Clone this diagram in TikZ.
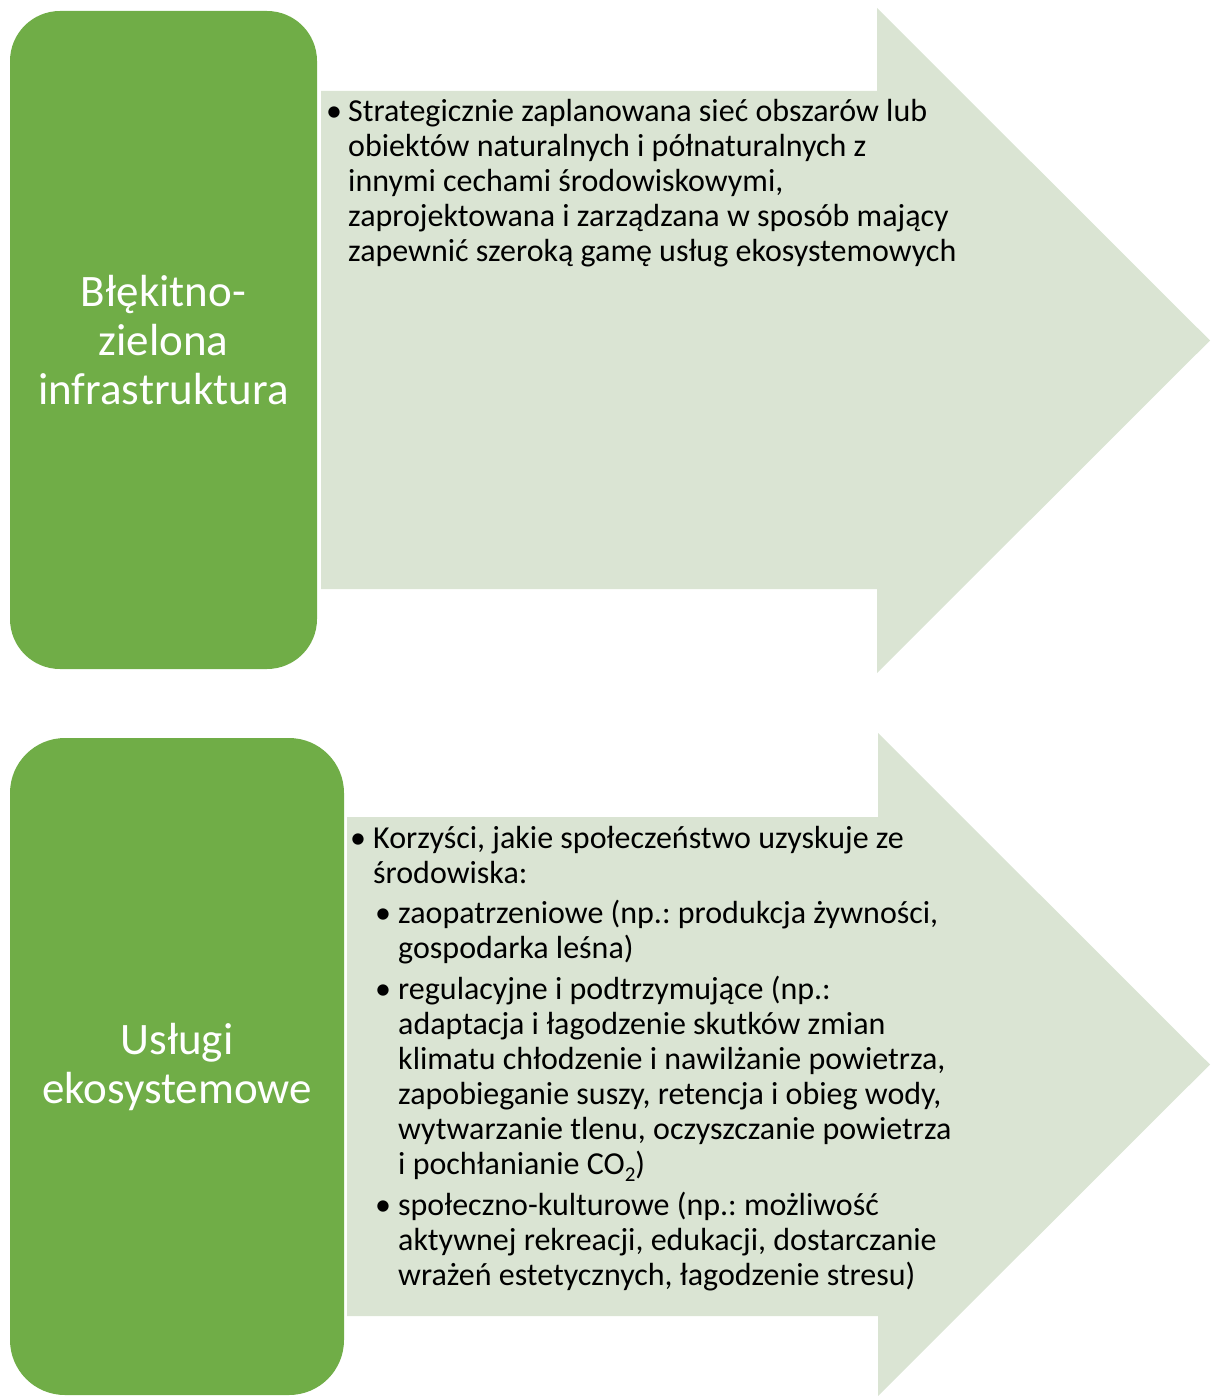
\documentclass[tikz,border=0pt]{standalone}
\usepackage{fontspec}
\setmainfont{Carlito}
\frenchspacing
\definecolor{gbox}{HTML}{70AD47}
\definecolor{garrow}{HTML}{DAE4D3}
\newcommand{\bul}[1]{\makebox[#1][l]{•}}
\newcommand{\toprule}{\rule{0pt}{32pt}}
\newcommand{\lowsub}[1]{\raisebox{-7pt}{\fontsize{21}{21}\selectfont #1}}
\begin{document}
\begin{tikzpicture}[x=1pt,y=-1pt,
  greenbox/.style={rectangle, fill=gbox, text=white, align=center, inner sep=0pt,
    font=\fontsize{45}{49}\selectfont},
  arrowfill/.style={fill=garrow},
  bodytext/.style={anchor=north west, align=left, inner sep=0pt, text=black,
    font=\fontsize{32}{35}\selectfont}]
\useasboundingbox (0,0) rectangle (1214,1396);
% arrows
\fill[arrowfill] (321,91) -- (877,91) -- (877,8) -- (1210,340.5) -- (877,673) -- (877,589) -- (321,589) -- cycle;
\fill[arrowfill] (347,817) -- (878,817) -- (878,733) -- (1210,1064.5) -- (878,1396) -- (878,1316) -- (347,1316) -- cycle;
% green boxes
\node[greenbox, minimum width=307pt, minimum height=658pt, rounded corners=50pt] (b1) at (163.5,340)
  {Błękitno-\\zielona\\infrastruktura};
\node[greenbox, minimum width=334pt, minimum height=657pt, rounded corners=55pt] (b2) at (177,1066.5)
  {Usługi\\ekosystemowe};
% texts (first baseline = node top + 32pt)
\node[bodytext] (t1) at (326,89) {%
\toprule\bul{22pt}Strategicznie zaplanowana sieć obszarów lub\\
\hspace*{22pt}obiektów naturalnych i półnaturalnych z\\
\hspace*{22pt}innymi cechami środowiskowymi,\\
\hspace*{22pt}zaprojektowana i zarządzana w sposób mający\\
\hspace*{22pt}zapewnić szeroką gamę usług ekosystemowych};
\node[bodytext] (t2) at (350,816) {%
\toprule\bul{23pt}Korzyści, jakie społeczeństwo uzyskuje ze\\
\hspace*{23pt}środowiska:\\[5pt]
\hspace*{25pt}\bul{23pt}zaopatrzeniowe (np.: produkcja żywności,\\
\hspace*{48pt}gospodarka leśna)\\[6pt]
\hspace*{25pt}\bul{23pt}regulacyjne i podtrzymujące (np.:\\
\hspace*{48pt}adaptacja i łagodzenie skutków zmian\\
\hspace*{48pt}klimatu chłodzenie i nawilżanie powietrza,\\
\hspace*{48pt}zapobieganie suszy, retencja i obieg wody,\\
\hspace*{48pt}wytwarzanie tlenu, oczyszczanie powietrza\\
\hspace*{48pt}i pochłanianie CO\lowsub{2})\\[6pt]
\hspace*{25pt}\bul{23pt}społeczno-kulturowe (np.: możliwość\\
\hspace*{48pt}aktywnej rekreacji, edukacji, dostarczanie\\
\hspace*{48pt}wrażeń estetycznych, łagodzenie stresu)};
\end{tikzpicture}
\end{document}
